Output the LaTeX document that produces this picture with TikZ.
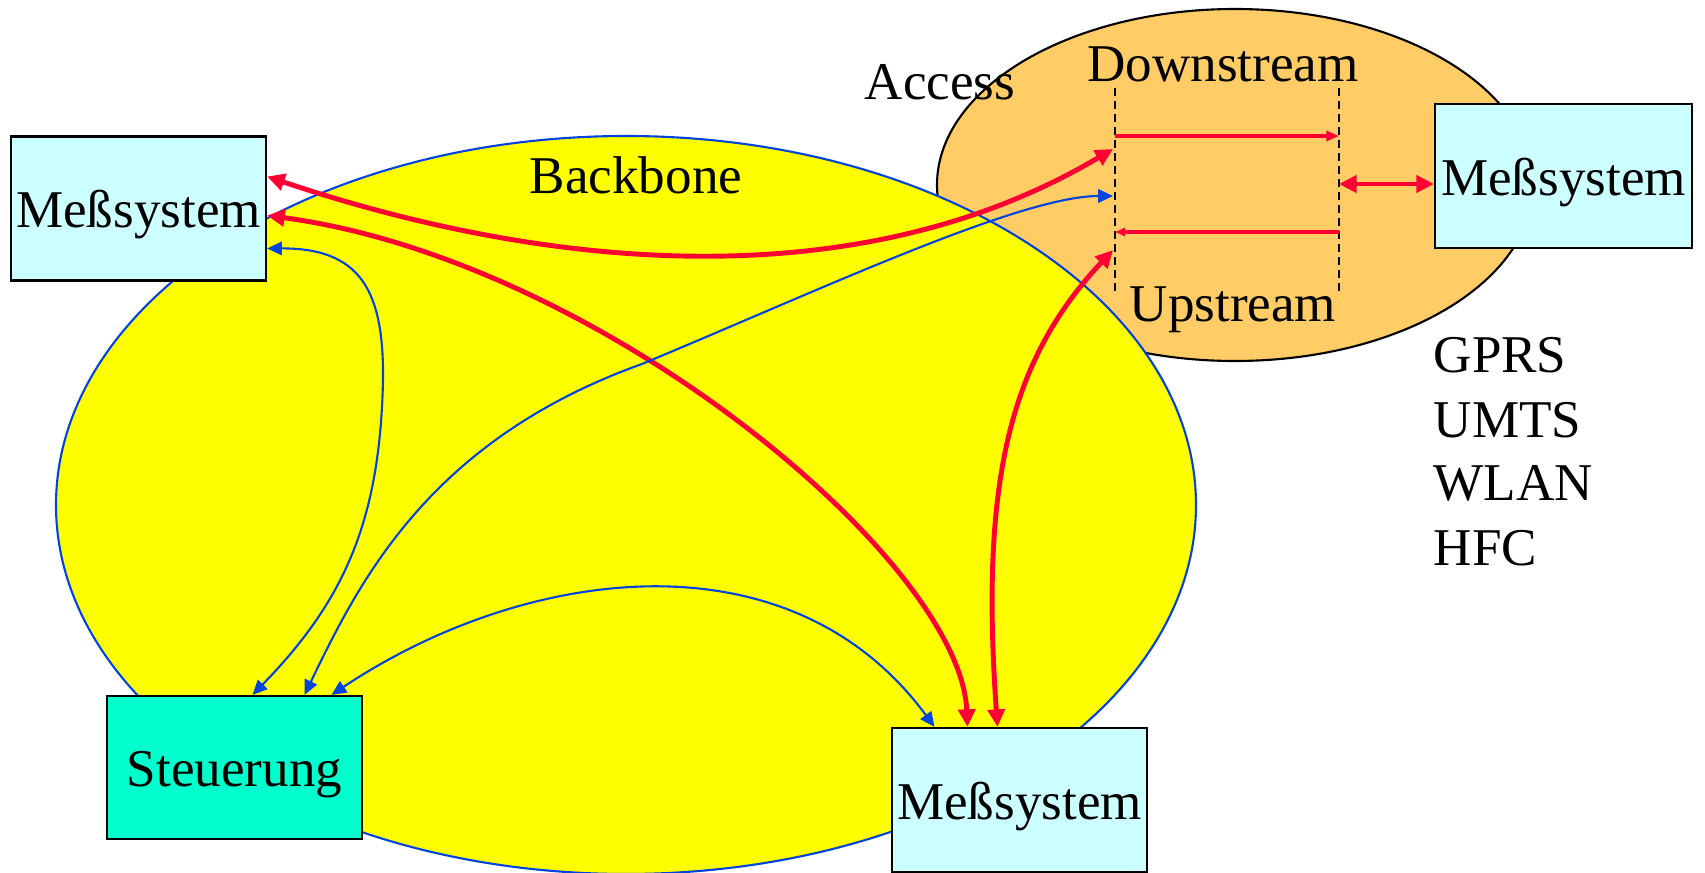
\documentclass[tikz,border=0pt]{standalone}
\usepackage{fontspec}
\setmainfont{Liberation Serif}
\usetikzlibrary{arrows.meta, positioning, calc}

\definecolor{bbyellow}{HTML}{FFFF00}
\definecolor{accorange}{HTML}{FFCC66}
\definecolor{boxcyan}{HTML}{CCFFFF}
\definecolor{ctrlgreen}{HTML}{00FFCC}
\definecolor{linkred}{HTML}{FF0033}
\definecolor{linkblue}{HTML}{0044DD}

% box text with its baseline a little below the centre
\newcommand{\boxtext}[1]{\raisebox{-0.19cm}[0pt][0pt]{#1}}

\tikzset{
    msbox/.style={draw=black, line width=0.6pt, fill=boxcyan, minimum width=2.55cm, minimum height=1.44cm, inner sep=0pt},
    lbl/.style={inner sep=0pt, anchor=base},
    redlink/.style={draw=linkred, line width=1.4pt, {Triangle[length=5pt, width=4.8pt]}-{Triangle[length=5pt, width=4.8pt]}},
    bluelink/.style={draw=linkblue, line width=0.6pt, {Triangle[length=4.2pt, width=3.8pt]}-{Triangle[length=4.2pt, width=3.8pt]}}
}

\begin{document}
\begin{tikzpicture}[x=0.01cm, y=-0.01cm, font=\fontsize{15.1}{18}\selectfont]
    \useasboundingbox (0,0) rectangle (1705,873);

    % Access and Backbone areas
    \draw[fill=accorange, line width=0.6pt] (1235,185) ellipse [x radius=298, y radius=176];
    \draw[fill=bbyellow, draw=linkblue, line width=0.6pt] (626,505) ellipse [x radius=570, y radius=369];

    % Area labels
    \node[lbl] (bblabel) at (636,194) {Backbone};
    \node[lbl] (acclabel) at (940,100) {Access};
    \node[lbl] (dslabel) at (1223,82) {Downstream};
    \node[lbl] (uslabel) at (1233,322) {Upstream};

    % Access technologies
    \foreach \t [count=\i] in {GPRS, UMTS, WLAN, HFC}
        \node[lbl, anchor=base west] (tech\i) at (1433,{373+64*(\i-1)}) {\t};

    % Systems
    \node[msbox] (msl) at (138.5,208.5) {\boxtext{Meßsystem}};
    \node[msbox, minimum width=2.57cm] (msr) at (1563.5,176) {\boxtext{Meßsystem}};
    \node[msbox, fill=ctrlgreen, minimum height=1.43cm] (ctrl) at (234.5,767.5) {\boxtext{Steuerung}};
    \node[msbox] (msb) at (1019.5,800) {\boxtext{Meßsystem}};

    % Dashed borders of the access network
    \coordinate (dsl) at (1115,88);
    \coordinate (usl) at (1115,296);
    \coordinate (dsr) at (1339,88);
    \coordinate (usr) at (1339,296);
    \draw[dashed, dash pattern=on 2.3pt off 1.4pt, line width=0.6pt] (dsl) -- (usl);
    \draw[dashed, dash pattern=on 2.3pt off 1.4pt, line width=0.6pt] (dsr) -- (usr);

    % Entry points on the access border
    \coordinate (inA) at (1113,149);
    \coordinate (inB) at (1113,196);
    \coordinate (inC) at (1113,250);

    % Down- and upstream
    \draw[draw=linkred, line width=1.4pt, -{Triangle[length=3.6pt, width=2.8pt]}] ($(dsl)+(0,48)$) -- ($(dsr)+(0,48)$);
    \draw[draw=linkred, line width=0.9pt, -{Triangle[length=2.8pt, width=2.2pt]}] ($(dsr)+(0,144)$) -- ($(dsl)+(0,144)$);
    \draw[redlink] ($(dsr)+(0,96)$) -- ($(msr.west)+(0,8)$);

    % Red links
    \draw[redlink] ($(msl.east)+(0,-32)$) .. controls (530,265) and (850,305) .. (inA);
    \draw[redlink] ($(msl.east)+(0,7)$) .. controls (600,260) and (960,560) .. ($(msb.north)+(-52,0)$);
    \draw[redlink] ($(msb.north)+(-22,0)$) .. controls (980,480) and (1010,360) .. (inC);

    % Blue links
    \draw[bluelink] ($(msl.east)+(0,40)$) .. controls (360,248) and (384,290) .. (383,380)
        .. controls (380,520) and (345,600) .. ($(ctrl.north)+(18,0)$);
    \draw[bluelink] ($(ctrl.north)+(70,0)$) .. controls (360,580) and (430,440) .. (642,364)
        .. controls (820,290) and (1020,196) .. (inB);
    \draw[bluelink] ($(ctrl.north)+(97,0)$) .. controls (525,566) and (790,530) .. ($(msb.north)+(-85,0)$);
\end{tikzpicture}
\end{document}
